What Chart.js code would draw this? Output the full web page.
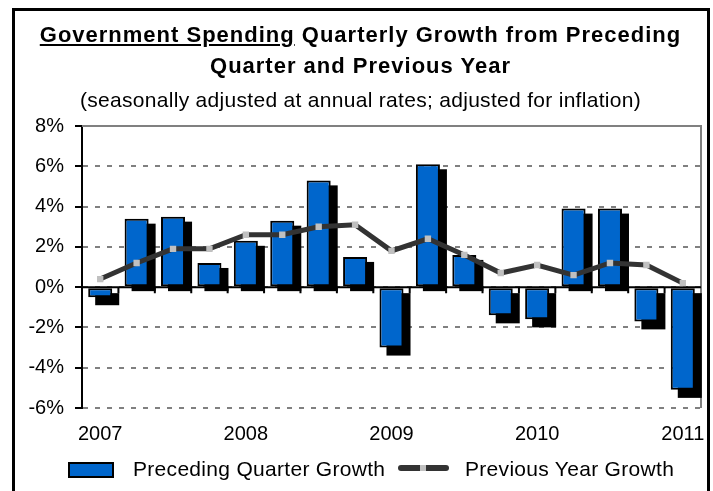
<!DOCTYPE html>
<html>
<head>
<meta charset="utf-8">
<script src="https://cdn.jsdelivr.net/npm/chart.js@4/dist/chart.umd.min.js"></script>
<style>
  html, body { margin: 0; padding: 0; background: #fff; }
  body { width: 713px; height: 491px; position: relative; overflow: hidden;
         font-family: "Liberation Sans", Arial, sans-serif; color: #000; }
  #frame { position: absolute; left: 12px; top: 8px; width: 698px; height: 520px;
           border: 3px solid #000; box-sizing: border-box; }
  canvas { position: absolute; left: 0; top: 0; }
  .title { position: absolute; left: 12px; width: 697px; text-align: center; white-space: nowrap; }
  .t1 { top: 22px; font-weight: bold; font-size: 22px; letter-spacing: 1px; }
  .t2 { top: 53px; font-weight: bold; font-size: 22px; letter-spacing: 1px; }
  .t3 { top: 88px; font-size: 21px; letter-spacing: 0.3px; }
  .legend-text { position: absolute; font-size: 21px; top: 457px; white-space: nowrap; letter-spacing: 0.3px; }
  #swatchBar { position: absolute; left: 68px; top: 462px; width: 46px; height: 16px;
               background: #0066CC; border: 2px solid #000; box-sizing: border-box; }
  #swatchLine { position: absolute; left: 398px; top: 465px; width: 51px; height: 6px;
                background: #333; border-radius: 3px; }
  #swatchLine span { position: absolute; left: 22px; top: 0; width: 6px; height: 6px; background: #c0c0c0; }
</style>
</head>
<body>
<div id="frame"></div>
<canvas id="chart" width="713" height="491"></canvas>
<div class="title t1"><u>Government Spending</u> Quarterly Growth from Preceding</div>
<div class="title t2">Quarter and Previous Year</div>
<div class="title t3">(seasonally adjusted at annual rates; adjusted for inflation)</div>
<div id="swatchBar"></div>
<div class="legend-text" style="left:133px">Preceding Quarter Growth</div>
<div id="swatchLine"><span></span></div>
<div class="legend-text" style="left:465px">Previous Year Growth</div>
<script>
// Quarters from 2007 Q1 through 2011 Q1
const quarters = ['2007 Q1','2007 Q2','2007 Q3','2007 Q4',
                  '2008 Q1','2008 Q2','2008 Q3','2008 Q4',
                  '2009 Q1','2009 Q2','2009 Q3','2009 Q4',
                  '2010 Q1','2010 Q2','2010 Q3','2010 Q4',
                  '2011 Q1'];
// Year shown under the first quarter of each year
const yearLabels = ['2007','','','','2008','','','','2009','','','','2010','','','','2011'];

// Growth from the preceding quarter (%, annual rate)
const precedingQuarterGrowth = [-0.5, 3.4, 3.5, 1.2, 2.3, 3.3, 5.3, 1.5,
                                -3.0, 6.1, 1.6, -1.4, -1.6, 3.9, 3.9, -1.7, -5.1];
// Growth from the same quarter of the previous year (%)
const previousYearGrowth = [0.4, 1.2, 1.9, 1.9, 2.6, 2.6, 3.0, 3.1,
                            1.8, 2.4, 1.6, 0.7, 1.1, 0.6, 1.2, 1.1, 0.2];

const yMin = -6, yMax = 8, yStep = 2;

const FONT = '"Liberation Sans", Arial, sans-serif';

// Drop shadows behind the bars, plus the zero line with its category ticks
const barDecor = {
  id: 'barDecor',
  beforeDatasetDraw(chart, args) {
    if (args.index !== 0) return;
    const ctx = chart.ctx;
    const meta = chart.getDatasetMeta(0);
    ctx.save();
    ctx.fillStyle = '#000';
    meta.data.forEach((el, i) => {
      const p = el.getProps(['x', 'y', 'base', 'width'], true);
      const v = chart.data.datasets[0].data[i];
      const left = p.x - p.width / 2 + 7;
      const top = Math.min(p.y, p.base) + 5;
      const bottom = Math.max(p.y, p.base) + (v < 0 ? 8 : 5);
      ctx.fillRect(left, top, p.width, bottom - top);
    });
    ctx.restore();
  },
  afterDatasetDraw(chart, args) {
    if (args.index !== 0) return;
    const ctx = chart.ctx;
    const area = chart.chartArea;
    const xs = chart.scales.x, ys = chart.scales.y;
    const y0 = ys.getPixelForValue(0);
    ctx.save();
    ctx.strokeStyle = '#000';
    ctx.lineWidth = 2;
    ctx.beginPath();
    ctx.moveTo(area.left, y0);
    ctx.lineTo(area.right, y0);
    for (let i = 1; i < quarters.length; i++) {
      const xb = (xs.getPixelForValue(i - 1) + xs.getPixelForValue(i)) / 2;
      ctx.moveTo(xb, y0);
      ctx.lineTo(xb, y0 + 6);
    }
    ctx.stroke();
    ctx.restore();
  },
  beforeDatasetsDraw(chart) {
    // solid frame on the top and right of the plot area
    const ctx = chart.ctx;
    const a = chart.chartArea;
    ctx.save();
    ctx.strokeStyle = '#808080';
    ctx.lineWidth = 2;
    ctx.beginPath();
    ctx.moveTo(a.left, a.top);
    ctx.lineTo(a.right, a.top);
    ctx.lineTo(a.right, a.bottom);
    ctx.stroke();
    ctx.restore();
  }
};

new Chart(document.getElementById('chart'), {
  data: {
    labels: quarters,
    datasets: [
      {
        type: 'bar',
        label: 'Preceding Quarter Growth',
        data: precedingQuarterGrowth,
        backgroundColor: '#0066CC',
        borderColor: '#000',
        borderWidth: 2,
        borderSkipped: false,
        barPercentage: 0.66,
        categoryPercentage: 1.0,
        order: 2
      },
      {
        type: 'line',
        label: 'Previous Year Growth',
        data: previousYearGrowth,
        borderColor: '#333333',
        borderWidth: 5,
        tension: 0,
        pointStyle: 'rect',
        pointRadius: 4.5,
        pointBorderWidth: 0,
        pointBackgroundColor: '#c0c0c0',
        order: 1
      }
    ]
  },
  options: {
    responsive: false,
    animation: false,
    events: [],
    layout: { padding: { top: 126, left: 0, right: 12, bottom: 0 } },
    plugins: { legend: { display: false }, tooltip: { enabled: false }, title: { display: false } },
    scales: {
      x: {
        type: 'category',
        grid: { display: false, drawTicks: false },
        border: { display: false },
        ticks: {
          autoSkip: false, maxRotation: 0, minRotation: 0, padding: 14,
          color: '#000', font: { family: FONT, size: 20 },
          callback: (v, i) => yearLabels[i]
        },
        afterFit: s => { s.height = 83; s.paddingLeft = 0; s.paddingRight = 0; }
      },
      y: {
        type: 'linear',
        min: yMin, max: yMax,
        grid: { color: '#808080', lineWidth: 2, tickColor: '#000', tickWidth: 2, tickLength: 7 },
        border: { display: true, color: '#000', width: 2, dash: [5, 7] },
        ticks: {
          stepSize: yStep, padding: 11, color: '#000',
          font: { family: FONT, size: 20 },
          callback: v => v + '%'
        },
        afterFit: s => { s.width = 82; s.paddingTop = 0; s.paddingBottom = 0; }
      }
    }
  },
  plugins: [barDecor]
});
</script>
</body>
</html>
